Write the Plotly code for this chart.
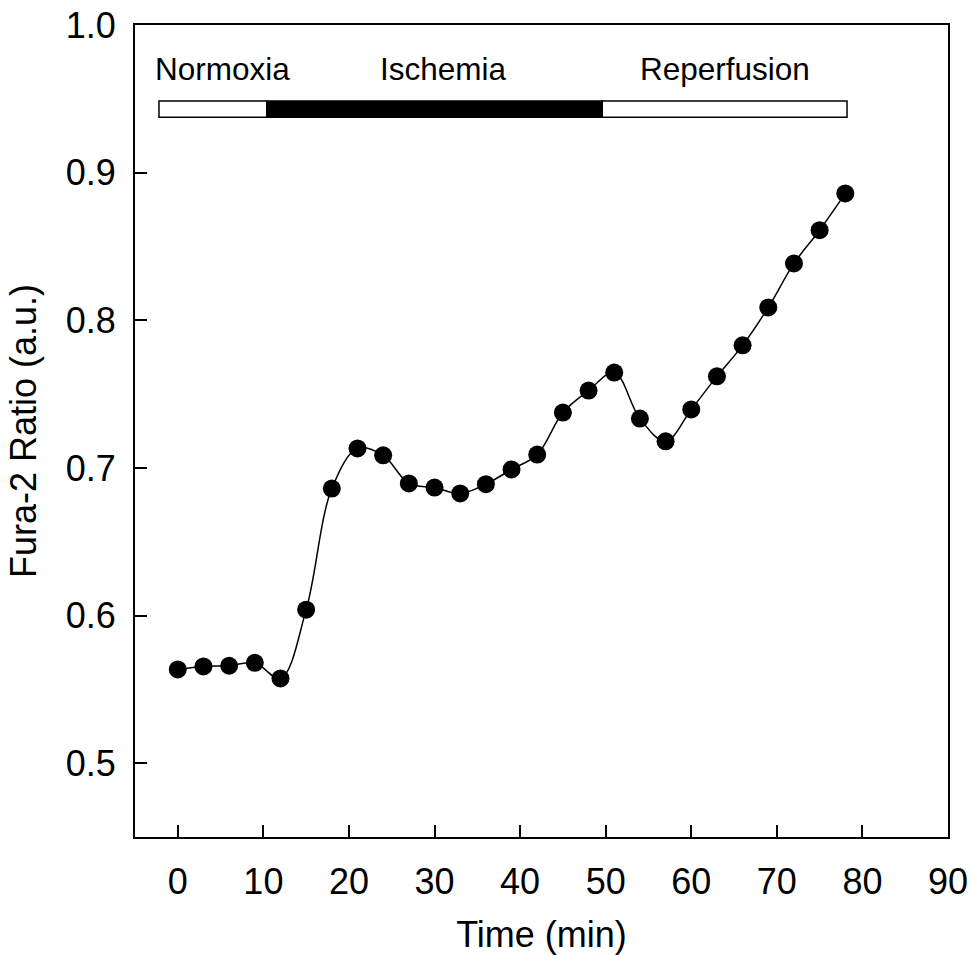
import plotly.graph_objects as go

time_min = [0, 3, 6, 9, 12, 15, 18, 21, 24, 27, 30, 33, 36, 39, 42, 45, 48, 51, 54, 57, 60, 63, 66, 69, 72, 75, 78]
fura_ratio = [0.5635, 0.5655, 0.566, 0.568, 0.5574, 0.604, 0.686, 0.7132, 0.7085, 0.6895, 0.6867, 0.6827,
              0.689, 0.699, 0.709, 0.7375, 0.7524, 0.7646, 0.7334, 0.718, 0.7396, 0.762, 0.783, 0.8087,
              0.8385, 0.861, 0.8859]

phase_names = ["Normoxia", "Ischemia", "Reperfusion"]
phase_start = [-2.2, 10.4, 49.6]
phase_end = [10.4, 49.6, 78.2]
phase_fill = ["white", "black", "white"]
phase_label_x = [5.2, 31.0, 64.0]
bar_bottom, bar_top = 0.9375, 0.9485
label_y = 0.970

x_ticks = [0, 10, 20, 30, 40, 50, 60, 70, 80, 90]
y_ticks = [0.5, 0.6, 0.7, 0.8, 0.9, 1.0]
y_tick_text = ["0.5", "0.6", "0.7", "0.8", "0.9", "1.0"]

FONT = "Liberation Sans, Arial, sans-serif"

fig = go.Figure()
fig.add_trace(go.Scatter(
    x=time_min, y=fura_ratio, mode="lines+markers",
    line=dict(color="black", width=1.5, shape="spline", smoothing=1.0),
    marker=dict(color="black", size=18),
    showlegend=False,
))

for name, x0, x1, fc, lx in zip(phase_names, phase_start, phase_end, phase_fill, phase_label_x):
    fig.add_shape(type="rect", xref="x", yref="y", x0=x0, x1=x1, y0=bar_bottom, y1=bar_top,
                  fillcolor=fc, line=dict(color="black", width=1.5), layer="above")
    fig.add_annotation(x=lx, y=label_y, xref="x", yref="y", text=name, showarrow=False,
                       font=dict(family=FONT, size=31.5, color="black"), yanchor="middle")

axis_common = dict(
    showgrid=False, zeroline=False, showline=True, linecolor="black", linewidth=2,
    mirror=True, ticks="inside", ticklen=12, tickwidth=2, tickcolor="black",
    tickfont=dict(family=FONT, size=36, color="black"), automargin=False,
)

fig.update_xaxes(range=[-5, 90], tickvals=x_ticks, ticklabelstandoff=12,
                 title=dict(text="Time (min)", font=dict(family=FONT, size=36, color="black"), standoff=22),
                 **axis_common)
fig.update_yaxes(range=[0.45, 1.0], tickvals=y_ticks, ticktext=y_tick_text, ticklabelstandoff=10,
                 title=dict(text="Fura-2 Ratio (a.u.)", font=dict(family=FONT, size=36, color="black"), standoff=18),
                 **axis_common)

fig.update_layout(
    width=972, height=955,
    margin=dict(l=135, r=24, t=25, b=118),
    plot_bgcolor="white", paper_bgcolor="white",
    font=dict(family=FONT, color="black"),
)

fig.write_html("out.html")
